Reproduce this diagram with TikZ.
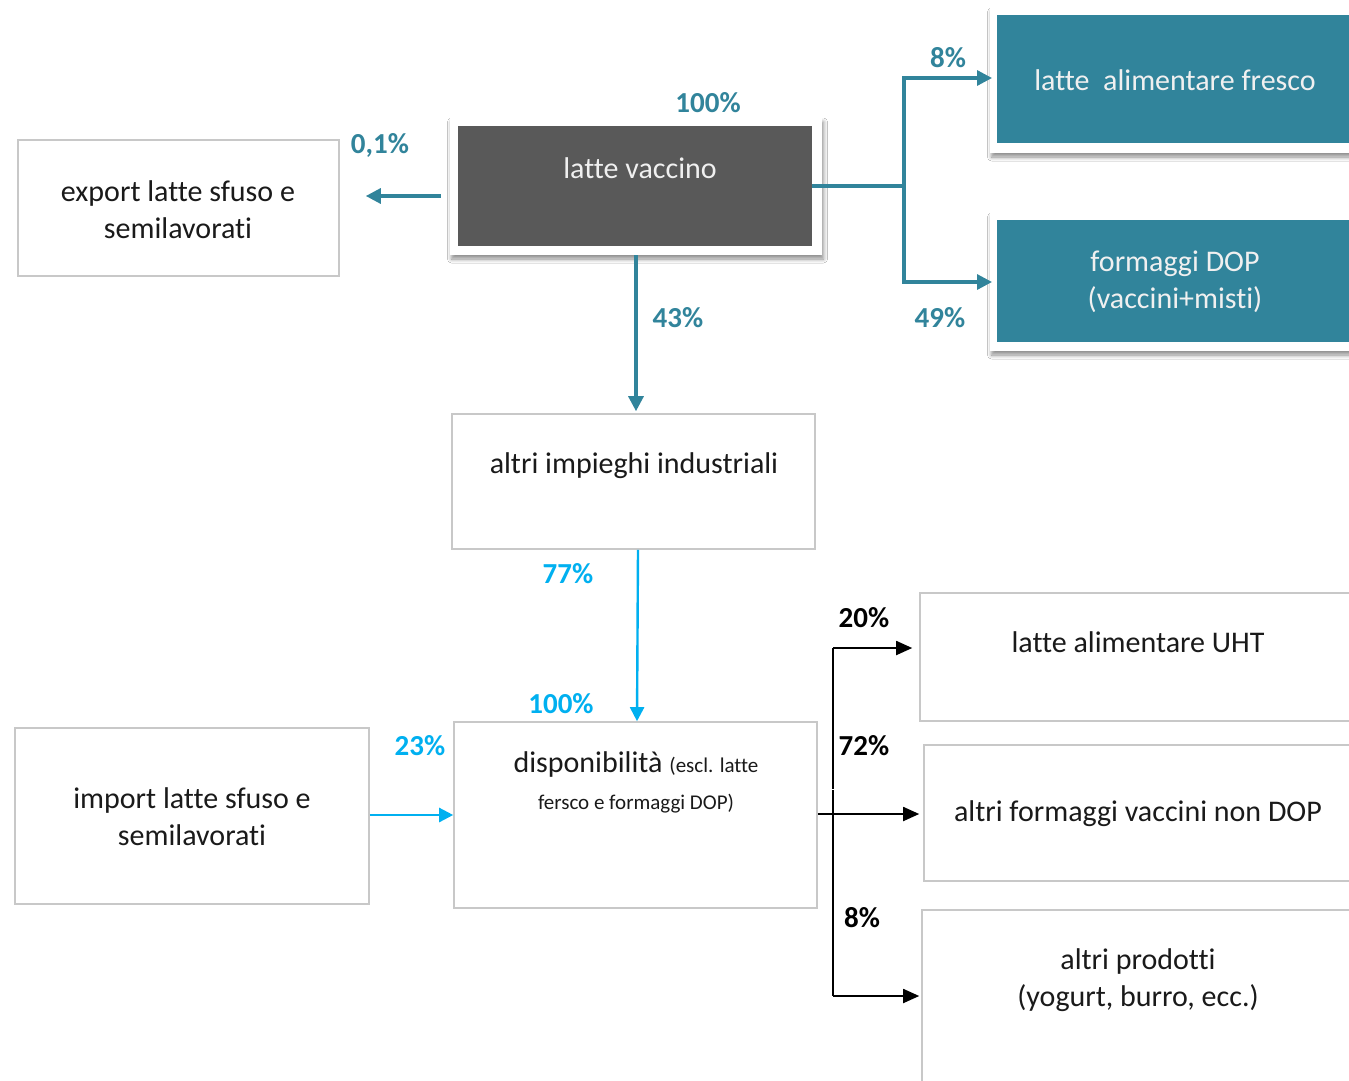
\documentclass[tikz,border=0pt]{standalone}
\usepackage{fontspec}
\setmainfont[Ligatures={NoCommon,NoRare}]{Carlito}
\usetikzlibrary{arrows.meta,shadows.blur}
\definecolor{tealc}{HTML}{31849B}
\definecolor{skyc}{HTML}{00B0F0}
\definecolor{dgrey}{HTML}{595959}
\definecolor{bordc}{HTML}{C8C8C8}
\definecolor{txtc}{HTML}{1A1A1A}
\begin{document}
\begin{tikzpicture}[x=1pt,y=-1pt,
  box/.style={draw=bordc,line width=1.6pt,fill=white,minimum width=#1,inner sep=0pt},
  shbox/.style={fill=white,inner sep=0pt,blur shadow={shadow xshift=1.5pt,shadow yshift=-4pt,shadow blur radius=4pt,shadow blur steps=6,shadow opacity=45}},
  txt/.style={font=\fontsize{30}{37}\selectfont,text=txtc,align=center,inner sep=0pt},
  wtxt/.style={font=\fontsize{30}{37}\selectfont,text=white!94!black,align=center,inner sep=0pt},
  pct/.style={font=\fontsize{29}{34}\selectfont\bfseries,inner sep=0pt},
  tarr/.style={draw=tealc,line width=3.2pt,-{Triangle[length=15pt,width=15pt]}},
  tline/.style={draw=tealc,line width=3.2pt},
  sarr/.style={draw=skyc,line width=2.4pt,-{Triangle[length=14pt,width=14pt]}},
  barr/.style={draw=black,line width=1.8pt,-{Triangle[length=16pt,width=14pt]}},
  bline/.style={draw=black,line width=1.8pt}
]
\useasboundingbox (0,0) rectangle (1349,1081);
\clip (0,0) rectangle (1349,1081);
\fill[white] (0,0) rectangle (1349,1081);

% shadowed boxes
\node[shbox,minimum width=372pt,minimum height=137pt] (vaccO) at (636,186.5) {};
\node[fill=dgrey,inner sep=0pt,minimum width=354pt,minimum height=120pt] (vacc) at (635,186) {};
\node[txt,text=white!94!black] (vaccT) at (640,168) {latte vaccino};

\node[shbox,minimum width=380pt,minimum height=145pt] (frescoO) at (1180,80.5) {};
\node[fill=tealc,inner sep=0pt,minimum width=366pt,minimum height=128pt] (fresco) at (1180,79) {};
\node[wtxt] (frescoT) at (1175,80) {latte\ \ alimentare fresco};

\node[shbox,minimum width=380pt,minimum height=138pt] (dopO) at (1180,282) {};
\node[fill=tealc,inner sep=0pt,minimum width=366pt,minimum height=122pt] (dop) at (1180,281) {};
\node[wtxt] (dopT) at (1175,282) {formaggi DOP\\(vaccini+misti)};

% plain boxes
\node[box=321pt,minimum height=136pt] (exp) at (178.5,208) {};
\node[txt] (expT) at (178,210) {export latte sfuso e\\semilavorati};

\node[box=363pt,minimum height=135pt] (ind) at (633.5,481.5) {};
\node[txt] (indT) at (634,466) {altri impieghi industriali};

\node[box=354pt,minimum height=176pt] (imp) at (192,816) {};
\node[txt] (impT) at (192,817) {import latte sfuso e\\semilavorati};

\node[box=363pt,minimum height=186pt] (disp) at (635.5,815) {};
\node[txt] (dispT) at (636,782) {disponibilità {\fontsize{21}{31}\selectfont(escl. latte}\\{\fontsize{21}{31}\selectfont fersco e formaggi DOP)}};

\node[box=440pt,minimum height=128pt] (uht) at (1140,657) {};
\node[txt] (uhtT) at (1138,642) {latte alimentare UHT};

\node[box=436pt,minimum height=136pt] (nondop) at (1142,813) {};
\node[txt] (nondopT) at (1138,814) {altri formaggi vaccini non DOP};

\node[box=438pt,minimum height=185pt] (prod) at (1141,1002.5) {};
\node[txt] (prodT) at (1138,980) {altri prodotti\\(yogurt, burro, ecc.)};

% teal connectors
\draw[tarr,shorten <=9pt,shorten >=26pt] (vaccO.west |- 0,196) -- (exp.east |- 0,196);
\draw[tarr,shorten >=2pt] (vaccO.south -| 636,0) -- (ind.north -| 636,0);
\coordinate (tj) at (904,186);
\draw[tline] (vacc.east |- tj) -- (tj);
\draw[tarr] (tj) |- (992,78) coordinate (tf);
\draw[tarr] (tj) |- (992,282) coordinate (td);

% light blue connectors
\draw[sarr] (ind.south -| 638,0) -- (disp.north -| 637,0);
\draw[sarr] (imp.east |- 0,815) -- (disp.west |- 0,815);

% black connectors
\coordinate (bj) at (833,815);
\draw[barr,shorten >=4pt] (disp.east |- 0,814) -- (nondop.west |- 0,814);
\draw[bline] (bj) ++(0,-26) -- (833,648);
\draw[barr,shorten >=7pt] (833,648) -- (uht.west |- 0,648);
\draw[bline] (833,790) -- (833,996);
\draw[barr,shorten >=2pt] (833,996) -- (prod.west |- 0,996);

% percentage labels
\node[pct,text=tealc] (p100) at (708,103) {100\%};
\node[pct,text=tealc] (p01) at (380,145) {0,1\%};
\node[pct,text=tealc] (p8t) at (948,58) {8\%};
\node[pct,text=tealc] (p49) at (940,318) {49\%};
\node[pct,text=tealc] (p43) at (678,318) {43\%};
\node[pct,text=skyc] (p77) at (568,574) {77\%};
\node[pct,text=skyc] (p100b) at (561,704) {100\%};
\node[pct,text=skyc] (p23) at (420,746) {23\%};
\node[pct,text=black] (p20) at (864,618) {20\%};
\node[pct,text=black] (p72) at (864,746) {72\%};
\node[pct,text=black] (p8b) at (862,918) {8\%};
\end{tikzpicture}
\end{document}
